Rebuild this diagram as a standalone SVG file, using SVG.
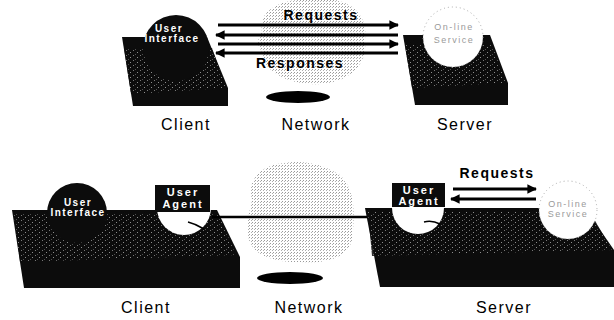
<svg xmlns="http://www.w3.org/2000/svg" width="614" height="320" viewBox="0 0 614 320">
<defs>
<pattern id="speck" patternUnits="userSpaceOnUse" width="7" height="5">
<rect width="7" height="5" fill="#0c0c0c"/>
<rect x="0" y="0" width="1" height="1" fill="#8a8a8a"/>
<rect x="4" y="2" width="1" height="1" fill="#a5a5a5"/>
<rect x="2" y="4" width="1" height="1" fill="#5a5a5a"/>
</pattern>
<pattern id="stip" patternUnits="userSpaceOnUse" width="3" height="3">
<rect width="3" height="3" fill="#fff"/>
<rect x="0" y="0" width="1" height="1" fill="#999"/>
<rect x="2" y="1" width="1" height="1" fill="#b0b0b0"/>
</pattern>
<marker id="ah" viewBox="0 0 10 10" refX="9" refY="5" markerWidth="3.2" markerHeight="3.2" orient="auto-start-reverse">
<path d="M0,0 L10,5 L0,10 z" fill="#000"/>
</marker>
</defs>
<style>
.slab{fill:#0c0c0c}
.spk{fill:url(#speck);opacity:.85}
.cloud{fill:url(#stip)}
.lbl{font-family:"Liberation Sans",Arial,sans-serif;font-size:16px;letter-spacing:1.5px;fill:#000;text-anchor:middle}
.big{font-family:"Liberation Sans",Arial,sans-serif;font-size:14px;font-weight:bold;letter-spacing:1.5px;fill:#000;text-anchor:middle}
.wt{font-family:"Liberation Sans",Arial,sans-serif;font-size:10px;font-weight:bold;letter-spacing:1.5px;fill:#fff;text-anchor:middle}
.ag{font-family:"Liberation Sans",Arial,sans-serif;font-size:11px;font-weight:bold;letter-spacing:2px;fill:#fff;text-anchor:middle}
.sv{font-family:"Liberation Sans",Arial,sans-serif;font-size:9px;letter-spacing:1.5px;fill:#9a9a9a;text-anchor:middle}
.svc{fill:#fff;stroke:#aaa;stroke-width:1;stroke-dasharray:1 3}
.arr{stroke:#000;stroke-width:3;fill:none;marker-end:url(#ah)}
.wire{stroke:#000;stroke-width:2.5;fill:none}
</style>

<!-- ===== Top scenario ===== -->
<g id="network-top">
<path class="cloud" d="M262,30 C258,12 280,0 300,0 L335,0 C355,4 368,18 365,40 C368,62 352,82 320,84 C292,86 262,72 262,52 C256,44 258,38 262,30 z"/>
<ellipse cx="298" cy="97" rx="32" ry="6" fill="#000"/>
<text class="lbl" x="316" y="130">Network</text>
</g>

<g id="client-top">
<polygon class="slab" points="122,37 207,37 228,88 228,106 133,106"/>
<polygon class="spk" points="124,48 212,48 226,88 131,94"/>
<circle cx="176" cy="48" r="33" fill="#0c0c0c"/>
<text class="wt" x="169" y="32">User</text>
<text class="wt" x="172" y="42">Interface</text>
<text class="lbl" x="186" y="130">Client</text>
</g>

<g id="server-top">
<polygon class="slab" points="403,35 490,35 508,83 508,105 415,105"/>
<polygon class="spk" points="405,45 492,45 506,83 412,88"/>
<circle class="svc" cx="453" cy="37" r="30"/>
<text class="sv" x="454" y="30">On-line</text>
<text class="sv" x="454" y="43">Service</text>
<text class="lbl" x="465" y="130">Server</text>
</g>

<g id="connectors-top">
<line class="arr" x1="218" y1="25" x2="398" y2="25"/>
<line class="arr" x1="398" y1="35" x2="216" y2="35"/>
<line class="arr" x1="218" y1="44" x2="398" y2="44"/>
<line class="arr" x1="398" y1="53" x2="216" y2="53"/>
<text class="big" x="321" y="20">Requests</text>
<text class="big" x="300" y="68">Responses</text>
</g>

<!-- ===== Bottom scenario ===== -->
<g id="network-bottom">
<path class="cloud" d="M252,200 C246,180 262,164 285,163 C300,160 322,163 340,175 C356,190 355,215 352,240 C348,258 325,264 300,262 C275,263 250,255 248,235 C246,222 250,210 252,200 z"/>
<ellipse cx="290" cy="278" rx="33" ry="6" fill="#000"/>
<text class="lbl" x="309" y="313">Network</text>
</g>

<g id="client-bottom">
<polygon class="slab" points="12,210 217,210 240,257 240,288 24,288"/>
<polygon class="spk" points="14,214 218,214 236,255 20,262"/>
<g id="user-interface">
<circle cx="77" cy="213" r="30" fill="#0c0c0c"/>
<text class="wt" x="78" y="206">User</text>
<text class="wt" x="78" y="216">Interface</text>
</g>
<g id="user-agent-client">
<circle cx="184" cy="208" r="27" fill="#fff"/>
<path d="M188,222 Q196,224 204,229" stroke="#000" stroke-width="1.5" fill="none"/>
<rect x="155" y="185" width="55" height="27" fill="#0c0c0c"/>
<text class="ag" x="183" y="196">User</text>
<text class="ag" x="183" y="208">Agent</text>
</g>
<text class="lbl" x="146" y="313">Client</text>
</g>

<g id="server-bottom">
<polygon class="slab" points="365,208 585,208 614,250 614,287 380,287"/>
<polygon class="spk" points="368,212 590,212 612,250 372,256"/>
<g id="user-agent-server">
<circle cx="418" cy="208" r="26" fill="#fff"/>
<path d="M424,222 Q432,220 440,224" stroke="#000" stroke-width="1.5" fill="none"/>
<rect x="392" y="183" width="53" height="24" fill="#0c0c0c"/>
<text class="ag" x="419" y="194">User</text>
<text class="ag" x="419" y="205">Agent</text>
</g>
<g id="service-bottom">
<circle class="svc" cx="568" cy="210" r="29"/>
<text class="sv" x="568" y="207">On-line</text>
<text class="sv" x="568" y="217">Service</text>
</g>
<text class="lbl" x="504" y="313">Server</text>
</g>

<g id="connectors-bottom">
<line class="wire" x1="212" y1="217" x2="367" y2="217"/>
<line class="arr" x1="453" y1="189" x2="536" y2="189"/>
<line class="arr" x1="536" y1="199" x2="451" y2="199"/>
<text class="big" x="497" y="178">Requests</text>
</g>
</svg>
